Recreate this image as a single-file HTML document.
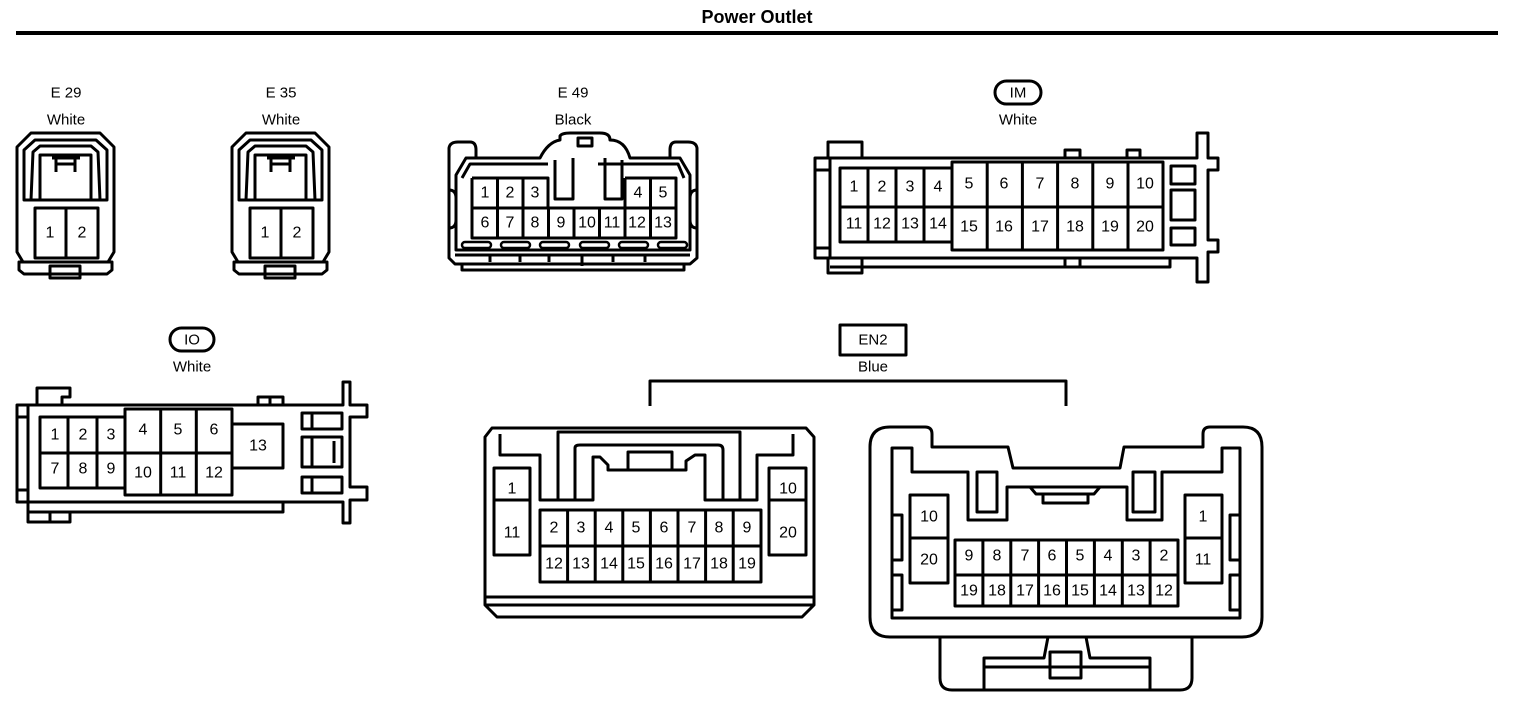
<!DOCTYPE html>
<html><head><meta charset="utf-8"><style>
html,body{margin:0;padding:0;background:#fff;}
svg{display:block;}
text{font-family:"Liberation Sans",Arial,sans-serif;fill:#000;text-anchor:middle;dominant-baseline:central;}
.p{font-size:16px;}
.l{font-size:15px;}
</style></head><body>
<svg width="1536" height="712" viewBox="0 0 1536 712" xmlns="http://www.w3.org/2000/svg">
<g fill="none" stroke="#000" stroke-width="3" stroke-linejoin="round">
<text x="757" y="17" style="font-size:18px;font-weight:bold" stroke="none">Power Outlet</text>
<line x1="16" y1="33" x2="1498" y2="33" stroke-width="4"/>

<!-- E29 -->
<g id="e29">
<path d="M17,147 L31,133 L100,133 L114,147 L114,252 L108,262 L23,262 L17,252 Z"/>
<path d="M24,150 L35,140 L96,140 L107,150 L107,200 L24,200 Z"/>
<path d="M31,200 L33,152 L40,146 L91,146 L98,152 L100,200"/>
<path d="M40,200 L40,155 L91,155 L91,200"/>
<path d="M56,158 L56,172 M75,158 L75,172 M56,164 L75,164 M52,158 L80,158"/>
<rect x="35" y="208" width="63" height="50"/>
<line x1="66" y1="208" x2="66" y2="258"/>
<path d="M19,262 L112,262 L112,270 L107,274 L24,274 L19,270 Z"/>
<rect x="50" y="266" width="30" height="12"/>
</g>
<g transform="translate(215,0)">
<path d="M17,147 L31,133 L100,133 L114,147 L114,252 L108,262 L23,262 L17,252 Z"/>
<path d="M24,150 L35,140 L96,140 L107,150 L107,200 L24,200 Z"/>
<path d="M31,200 L33,152 L40,146 L91,146 L98,152 L100,200"/>
<path d="M40,200 L40,155 L91,155 L91,200"/>
<path d="M56,158 L56,172 M75,158 L75,172 M56,164 L75,164 M52,158 L80,158"/>
<rect x="35" y="208" width="63" height="50"/>
<line x1="66" y1="208" x2="66" y2="258"/>
<path d="M19,262 L112,262 L112,270 L107,274 L24,274 L19,270 Z"/>
<rect x="50" y="266" width="30" height="12"/>
</g>

<!-- E49 -->
<path d="M449,160 L449,148 Q450,142 458,142 L470,142 Q476,142 476,150 L476,158 M449,160 L449,258 L455,264 L690,264 L697,258 L697,160 M697,160 L697,148 Q696,142 688,142 L676,142 Q670,142 670,150 L670,158"/>
<path d="M456,175 L466,158 L540,158 Q548,142 560,140 L560,136 Q562,133 570,133 L600,133 Q610,133 610,140 Q625,140 630,158 L680,158 L690,175 L690,250 L456,250 Z"/>
<path d="M462,178 L470,164 L548,164 M598,164 L678,164 L684,178"/>
<path d="M555,160 L555,199 L573,199 L573,158 M605,158 L605,199 L622,199 L622,160"/>
<rect x="578" y="138" width="14" height="8"/>
<path d="M449,190 Q456,190 456,198 L456,220 Q456,228 449,228 M697,190 Q690,190 690,198 L690,220 Q690,228 697,228"/>
<path d="M472,178 L548,178 L548,208 M625,178 L676,178 L676,238 L472,238 L472,178 M472,208 L676,208 M497.5,178 V238 M523,178 V238 M548.5,208 V238 M574,208 V238 M599.5,208 V238 M625,178 V238 M650.5,178 V238"/>
<g stroke-width="2.5"><rect x="462" y="242" width="29" height="6" rx="3"/><rect x="501" y="242" width="29" height="6" rx="3"/><rect x="540" y="242" width="29" height="6" rx="3"/><rect x="580" y="242" width="29" height="6" rx="3"/><rect x="619" y="242" width="29" height="6" rx="3"/><rect x="658" y="242" width="29" height="6" rx="3"/></g>
<path d="M455,255 L690,255 M462,264 L462,270 L684,270 L684,264"/>
<path d="M490,256 V262 M520,256 V262 M549,256 V262 M582,256 V266 M613,256 V262 M645,256 V262"/>

<!-- IM -->
<rect x="995" y="81" width="46" height="23" rx="11.5"/>
<path d="M815,158 L1197,158 L1197,133 L1208,133 L1208,158 L1218,158 L1218,170 L1208,170 L1208,240 L1218,240 L1218,252 L1208,252 L1208,282 L1197,282 L1197,258 L815,258 Z"/>
<line x1="830" y1="158" x2="830" y2="258"/>
<path d="M815,170 L830,170 M815,248 L830,248"/>
<path d="M828,158 L828,142 L862,142 L862,158 M828,258 L828,273 L862,273 L862,258"/>
<path d="M1065,158 L1065,150 L1080,150 L1080,158 M1127,158 L1127,150 L1140,150 L1140,158"/>
<path d="M830,267 L1170,267 L1170,258 M1065,258 L1065,267 M1080,258 L1080,267"/>
<path d="M952,168 L840,168 L840,242 L952,242 M840,207 L952,207 M868,168 V242 M896,168 V242 M924,168 V242"/>
<path d="M952,162 L1163,162 L1163,250 L952,250 Z M952,207 L1163,207 M987.2,162 V250 M1022.4,162 V250 M1057.6,162 V250 M1092.8,162 V250 M1128,162 V250"/>
<rect x="1171" y="166" width="24" height="18"/><rect x="1171" y="190" width="24" height="30"/><rect x="1171" y="228" width="24" height="17"/>

<!-- IO -->
<rect x="170" y="328" width="44" height="23" rx="11.5"/>
<path d="M17,405 L343,405 L343,382 L350,382 L350,405 L367,405 L367,417 L350,417 L350,487 L367,487 L367,500 L350,500 L350,523 L343,523 L343,502 L17,502 Z"/>
<line x1="28" y1="405" x2="28" y2="502"/>
<path d="M17,417 L28,417 M17,490 L28,490"/>
<path d="M37,405 L37,388 L70,388 L70,397 L62,397 L62,405 M28,502 L28,522 L70,522 L70,512 M28,512 L283,512 L283,502 M258,405 L258,397 L283,397 L283,405 M270,397 V405 M50,512 V522"/>
<path d="M125,417 L40,417 L40,488 L125,488 M40,453 L125,453 M68,417 V488 M97,417 V488"/>
<path d="M125,409 L232,409 L232,495 L125,495 Z M125,453 L232,453 M160.7,409 V495 M196.3,409 V495"/>
<rect x="232" y="424" width="51" height="44"/>
<rect x="302" y="413" width="40" height="16"/><rect x="302" y="437" width="40" height="30"/><rect x="302" y="477" width="40" height="16"/>
<path d="M312,413 V429 M312,437 V467 M312,477 V493 M334,441 V463"/>

<!-- EN2 -->
<rect x="840" y="325" width="66" height="30"/>
<path d="M650,406 L650,381 L1066,381 L1066,406"/>

<!-- EN2 left -->
<path d="M485,437 L492,428 L806,428 L814,437 L814,605 L802,617 L497,617 L485,605 Z"/>
<path d="M485,597 L814,597 M485,605 L814,605"/>
<path d="M500,434 L500,455 L540,455 L540,500 L593,500 L593,457 L600,457 L608,465 L608,470 L686,470 L686,461 L695,455 L705,455 L705,500 L757,500 L757,455 L793,455 L793,434"/>
<path d="M558,500 L558,432 L740,432 L740,500 M575,500 L575,448 Q575,445 580,445 L718,445 Q723,445 723,450 L723,500"/>
<rect x="628" y="452" width="44" height="18"/>
<path d="M494,468 L530,468 L530,555 L494,555 Z M494,500 L530,500"/>
<path d="M769,468 L806,468 L806,555 L769,555 Z M769,500 L806,500"/>
<path d="M540,510 L761,510 L761,582 L540,582 Z M540,546 L761,546 M567.6,510 V582 M595.2,510 V582 M622.8,510 V582 M650.4,510 V582 M678,510 V582 M705.6,510 V582 M733.2,510 V582"/>

<!-- EN2 right -->
<path d="M870,447 Q870,427 890,427 L925,427 Q932,427 932,434 L932,447 L1008,447 L1013,468 L1120,468 L1124,447 L1203,447 L1203,434 Q1203,427 1210,427 L1243,427 Q1262,427 1262,447 L1262,617 Q1262,637 1242,637 L890,637 Q870,637 870,617 Z"/>
<path d="M892,448 L892,618 L1240,618 L1240,448 L1222,448 L1222,472 L1162,472 L1162,520 L1127,520 L1127,487 L1007,487 L1007,520 L968,520 L968,472 L912,472 L912,448 Z"/>
<rect x="977" y="472" width="20" height="40"/><rect x="1133" y="472" width="22" height="40"/>
<path d="M1030,487 L1036,494 L1094,494 L1100,487"/><rect x="1043" y="494" width="45" height="9"/>
<path d="M892,515 L902,515 L902,560 L892,560 M892,575 L902,575 L902,610 L892,610 M1240,515 L1230,515 L1230,560 L1240,560 M1240,575 L1230,575 L1230,610 L1240,610"/>
<path d="M910,495 L948,495 L948,583 L910,583 Z M910,538 L948,538"/>
<path d="M1185,495 L1222,495 L1222,583 L1185,583 Z M1185,538 L1222,538"/>
<path d="M955,540 L1178,540 L1178,606 L955,606 Z M955,575 L1178,575 M982.9,540 V606 M1010.8,540 V606 M1038.6,540 V606 M1066.5,540 V606 M1094.4,540 V606 M1122.3,540 V606 M1150.1,540 V606"/>
<path d="M940,637 L940,678 Q940,690 952,690 L1180,690 Q1192,690 1192,678 L1192,637"/>
<path d="M984,690 L984,658 L1044,658 L1048,637 M1150,690 L1150,658 L1090,658 L1086,637 M984,667 L1150,667"/>
<rect x="1050" y="652" width="31" height="26"/>
</g>

<g stroke="none">
<text class="l" x="66" y="93">E 29</text><text class="l" x="66" y="120">White</text>
<text class="p" x="50" y="233">1</text><text class="p" x="82" y="233">2</text>
<text class="l" x="281" y="93">E 35</text><text class="l" x="281" y="120">White</text>
<text class="p" x="265" y="233">1</text><text class="p" x="297" y="233">2</text>
<text class="l" x="573" y="93">E 49</text><text class="l" x="573" y="120">Black</text>
<text class="p" x="485" y="193">1</text><text class="p" x="510" y="193">2</text><text class="p" x="535" y="193">3</text><text class="p" x="638" y="193">4</text><text class="p" x="663" y="193">5</text>
<text class="p" x="485" y="223">6</text><text class="p" x="510" y="223">7</text><text class="p" x="535" y="223">8</text><text class="p" x="561" y="223">9</text><text class="p" x="587" y="223">10</text><text class="p" x="612" y="223">11</text><text class="p" x="637" y="223">12</text><text class="p" x="663" y="223">13</text>

<text class="l" x="1018" y="93">IM</text><text class="l" x="1018" y="120">White</text>
<text class="p" x="854" y="187">1</text><text class="p" x="882" y="187">2</text><text class="p" x="910" y="187">3</text><text class="p" x="938" y="187">4</text>
<text class="p" x="854" y="224">11</text><text class="p" x="882" y="224">12</text><text class="p" x="910" y="224">13</text><text class="p" x="938" y="224">14</text>
<text class="p" x="969" y="184">5</text><text class="p" x="1004" y="184">6</text><text class="p" x="1040" y="184">7</text><text class="p" x="1075" y="184">8</text><text class="p" x="1110" y="184">9</text><text class="p" x="1145" y="184">10</text>
<text class="p" x="969" y="227">15</text><text class="p" x="1004" y="227">16</text><text class="p" x="1040" y="227">17</text><text class="p" x="1075" y="227">18</text><text class="p" x="1110" y="227">19</text><text class="p" x="1145" y="227">20</text>

<text class="l" x="192" y="340">IO</text><text class="l" x="192" y="367">White</text>
<text class="p" x="55" y="435">1</text><text class="p" x="83" y="435">2</text><text class="p" x="111" y="435">3</text>
<text class="p" x="55" y="469">7</text><text class="p" x="83" y="469">8</text><text class="p" x="111" y="469">9</text>
<text class="p" x="143" y="430">4</text><text class="p" x="178" y="430">5</text><text class="p" x="214" y="430">6</text>
<text class="p" x="143" y="473">10</text><text class="p" x="178" y="473">11</text><text class="p" x="214" y="473">12</text>
<text class="p" x="258" y="446">13</text>

<text class="l" x="873" y="340">EN2</text><text class="l" x="873" y="367">Blue</text>
<text class="p" x="512" y="489">1</text><text class="p" x="512" y="533">11</text>
<text class="p" x="788" y="489">10</text><text class="p" x="788" y="533">20</text>
<text class="p" x="554" y="528">2</text><text class="p" x="581" y="528">3</text><text class="p" x="609" y="528">4</text><text class="p" x="636" y="528">5</text><text class="p" x="664" y="528">6</text><text class="p" x="692" y="528">7</text><text class="p" x="719" y="528">8</text><text class="p" x="747" y="528">9</text>
<text class="p" x="554" y="564">12</text><text class="p" x="581" y="564">13</text><text class="p" x="609" y="564">14</text><text class="p" x="636" y="564">15</text><text class="p" x="664" y="564">16</text><text class="p" x="692" y="564">17</text><text class="p" x="719" y="564">18</text><text class="p" x="747" y="564">19</text>

<text class="p" x="929" y="517">10</text><text class="p" x="929" y="560">20</text>
<text class="p" x="1203" y="517">1</text><text class="p" x="1203" y="560">11</text>
<text class="p" x="969" y="556">9</text><text class="p" x="997" y="556">8</text><text class="p" x="1025" y="556">7</text><text class="p" x="1052" y="556">6</text><text class="p" x="1080" y="556">5</text><text class="p" x="1108" y="556">4</text><text class="p" x="1136" y="556">3</text><text class="p" x="1164" y="556">2</text>
<text class="p" x="969" y="591">19</text><text class="p" x="997" y="591">18</text><text class="p" x="1025" y="591">17</text><text class="p" x="1052" y="591">16</text><text class="p" x="1080" y="591">15</text><text class="p" x="1108" y="591">14</text><text class="p" x="1136" y="591">13</text><text class="p" x="1164" y="591">12</text>
</g>
</svg>
</body></html>
